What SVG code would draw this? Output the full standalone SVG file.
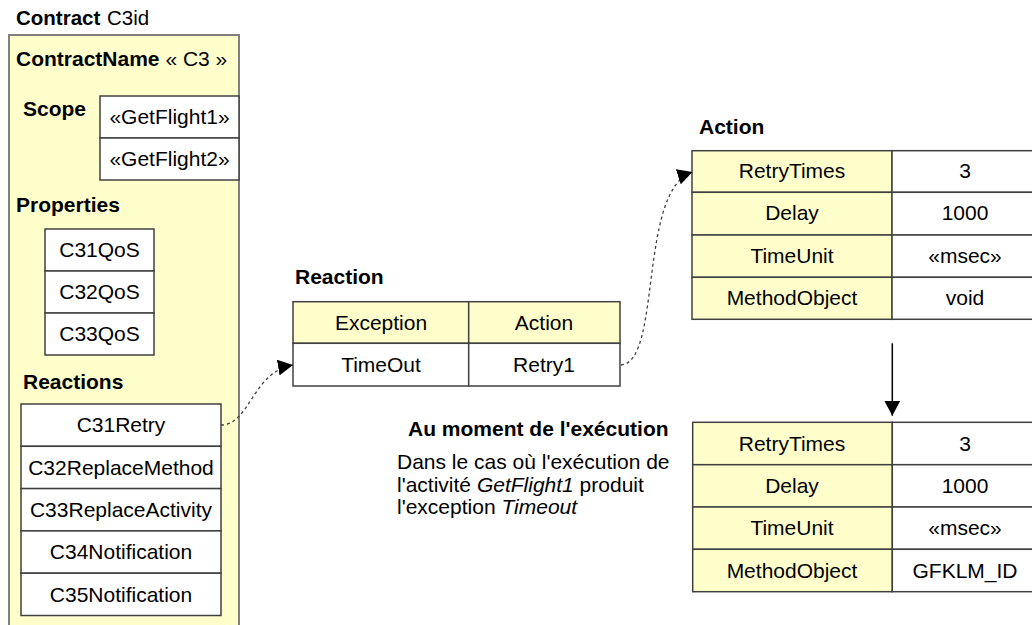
<svg xmlns="http://www.w3.org/2000/svg" width="1032" height="625" viewBox="0 0 1032 625">
<style>
  text { font-family: "Liberation Sans", Arial, sans-serif; fill: #000; }
  .t { font-size: 21px; text-anchor: middle; }
  .h { font-size: 21px; font-weight: bold; }
  .p { font-size: 21px; }
  .y { fill: #FFFFCC; stroke: #404040; stroke-width: 1.5; }
  .w { fill: #FFFFFF; stroke: #404040; stroke-width: 1.5; }
  .outer { fill: #FFFFCC; stroke: #808080; stroke-width: 2; }
  .dash { fill: none; stroke: #404040; stroke-width: 1.3; stroke-dasharray: 3 3; }
  .solid { fill: none; stroke: #000; stroke-width: 1.5; }
</style>
<defs>
  <marker id="ahBig" markerWidth="16" markerHeight="16" refX="15" refY="8" orient="auto" markerUnits="userSpaceOnUse" viewBox="0 0 16 16">
    <path d="M0,0 L15,8 L0,16 Z" fill="#000"/>
  </marker>
</defs>

<g id="contract">
  <text class="h" x="16" y="25" style="font-size:20.5px">Contract</text>
  <text x="107" y="25" style="font-size:20.5px">C3id</text>
  <rect class="outer" x="9" y="35" width="230" height="600"/>
  <text x="16" y="66" style="font-size:21px"><tspan font-weight="bold">ContractName</tspan> « C3 »</text>
  <text class="h" x="23" y="116">Scope</text>
  <text class="h" x="16" y="212">Properties</text>
  <text class="h" x="23" y="389">Reactions</text>
</g>

<g id="scope">
  <rect class="w" x="100" y="96" width="139" height="42"/>
  <text class="t" x="169.5" y="124">«GetFlight1»</text>
  <rect class="w" x="100" y="138" width="139" height="42"/>
  <text class="t" x="169.5" y="166">«GetFlight2»</text>
</g>

<g id="properties">
  <rect class="w" x="45" y="229" width="109" height="42"/>
  <text class="t" x="99.5" y="257">C31QoS</text>
  <rect class="w" x="45" y="271" width="109" height="42"/>
  <text class="t" x="99.5" y="299">C32QoS</text>
  <rect class="w" x="45" y="313" width="109" height="42"/>
  <text class="t" x="99.5" y="341">C33QoS</text>
</g>

<g id="reactions">
  <rect class="w" x="21" y="404" width="200" height="42.3"/>
  <text class="t" x="121" y="432">C31Retry</text>
  <rect class="w" x="21" y="446.3" width="200" height="42.3"/>
  <text class="t" x="121" y="474.5">C32ReplaceMethod</text>
  <rect class="w" x="21" y="488.6" width="200" height="42.3"/>
  <text class="t" x="121" y="517">C33ReplaceActivity</text>
  <rect class="w" x="21" y="530.9" width="200" height="42.3"/>
  <text class="t" x="121" y="559">C34Notification</text>
  <rect class="w" x="21" y="573.2" width="200" height="42.3"/>
  <text class="t" x="121" y="601.5">C35Notification</text>
</g>

<g id="reaction">
  <text class="h" x="295" y="284">Reaction</text>
  <rect class="y" x="293" y="301.7" width="175.7" height="41.6"/>
  <rect class="y" x="468.7" y="301.7" width="151.3" height="41.6"/>
  <rect class="w" x="293" y="343.3" width="175.7" height="42.7"/>
  <rect class="w" x="468.7" y="343.3" width="151.3" height="42.7"/>
  <text class="t" x="381" y="330">Exception</text>
  <text class="t" x="544" y="330">Action</text>
  <text class="t" x="381" y="372">TimeOut</text>
  <text class="t" x="544" y="372">Retry1</text>
</g>

<g id="action">
  <text class="h" x="699" y="134">Action</text>
  <rect class="y" x="692" y="150.7" width="200" height="41.6"/>
  <rect class="y" x="692" y="192.3" width="200" height="42.7"/>
  <rect class="y" x="692" y="235" width="200" height="42.3"/>
  <rect class="y" x="692" y="277.3" width="200" height="42"/>
  <rect class="w" x="892" y="150.7" width="160" height="41.6"/>
  <rect class="w" x="892" y="192.3" width="160" height="42.7"/>
  <rect class="w" x="892" y="235" width="160" height="42.3"/>
  <rect class="w" x="892" y="277.3" width="160" height="42"/>
  <text class="t" x="792" y="178">RetryTimes</text>
  <text class="t" x="792" y="220">Delay</text>
  <text class="t" x="792" y="263">TimeUnit</text>
  <text class="t" x="792" y="305">MethodObject</text>
  <text class="t" x="965" y="178">3</text>
  <text class="t" x="965" y="220">1000</text>
  <text class="t" x="965" y="263">«msec»</text>
  <text class="t" x="965" y="305">void</text>
</g>

<g id="runtime">
  <rect class="y" x="692.7" y="422.3" width="199.6" height="42.4"/>
  <rect class="y" x="692.7" y="464.7" width="199.6" height="42.3"/>
  <rect class="y" x="692.7" y="507" width="199.6" height="42.3"/>
  <rect class="y" x="692.7" y="549.3" width="199.6" height="42.4"/>
  <rect class="w" x="892.3" y="422.3" width="160" height="42.4"/>
  <rect class="w" x="892.3" y="464.7" width="160" height="42.3"/>
  <rect class="w" x="892.3" y="507" width="160" height="42.3"/>
  <rect class="w" x="892.3" y="549.3" width="160" height="42.4"/>
  <text class="t" x="792" y="451">RetryTimes</text>
  <text class="t" x="792" y="493">Delay</text>
  <text class="t" x="792" y="535">TimeUnit</text>
  <text class="t" x="792" y="578">MethodObject</text>
  <text class="t" x="965" y="451">3</text>
  <text class="t" x="965" y="493">1000</text>
  <text class="t" x="965" y="535">«msec»</text>
  <text class="t" x="965" y="578">GFKLM_ID</text>
</g>

<g id="note">
  <text class="h" x="408" y="436">Au moment de l'exécution</text>
  <text class="p" x="397" y="469">Dans le cas où l'exécution de</text>
  <text class="p" x="397" y="491.5">l'activité <tspan font-style="italic">GetFlight1</tspan> produit</text>
  <text class="p" x="397" y="514">l'exception <tspan font-style="italic">Timeout</tspan></text>
</g>

<g id="connectors">
  <path class="dash" d="M221,425 C250,425 252,372 293,365" marker-end="url(#ahBig)"/>
  <path class="dash" d="M621,365 C662,362 638,190 692.5,172" marker-end="url(#ahBig)"/>
  <path class="solid" d="M892.3,343.3 L892.3,415.7" marker-end="url(#ahBig)"/>
</g>
</svg>
